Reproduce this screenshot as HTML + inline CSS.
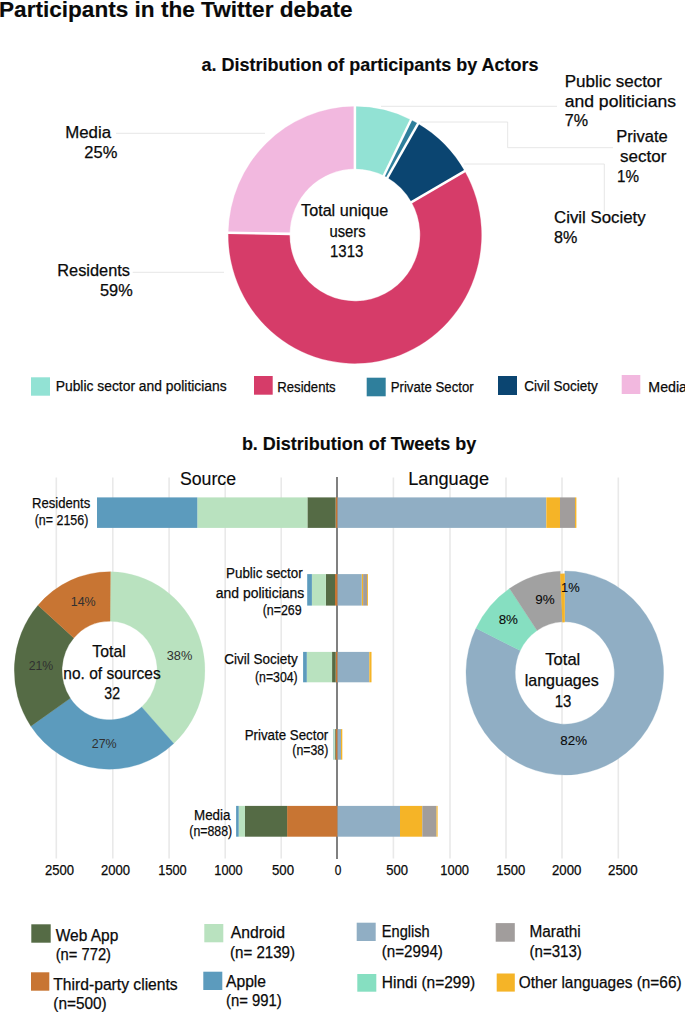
<!DOCTYPE html>
<html lang="en"><head><meta charset="utf-8"><title>Participants in the Twitter debate</title>
<style>
html,body{margin:0;padding:0;background:#fff;}
body{width:685px;height:1012px;overflow:hidden;}
svg{display:block;font-family:'Liberation Sans', Arial, sans-serif;}
</style></head><body>
<svg width="685" height="1012" viewBox="0 0 685 1012">
<text x="-1" y="17.3" font-size="21.8" font-weight="700" textLength="353.5" lengthAdjust="spacingAndGlyphs" fill="#0a0a0a" stroke="#0a0a0a" stroke-width="0.15">Participants in the Twitter debate</text>
<text x="201.5" y="71" font-size="17.9" font-weight="700" textLength="337.0" lengthAdjust="spacingAndGlyphs" fill="#0a0a0a" stroke="#0a0a0a" stroke-width="0.15">a. Distribution of participants by Actors</text>
<line x1="116" y1="133.3" x2="265" y2="133.3" stroke="#E0E0E0" stroke-width="0.8"/>
<line x1="132.7" y1="272.3" x2="224" y2="272.3" stroke="#E0E0E0" stroke-width="0.8"/>
<line x1="381" y1="106.3" x2="557" y2="106.3" stroke="#E0E0E0" stroke-width="0.8"/>
<polyline points="420.5,122 507.7,122 507.7,147.7 613,147.7" fill="none" stroke="#E0E0E0" stroke-width="0.8"/>
<polyline points="463.7,164 604.3,164 604.3,211.7" fill="none" stroke="#E0E0E0" stroke-width="0.8"/>
<g transform="translate(354.9 235) scale(1 1.015)">
<path d="M0.00 -126.50A126.5 126.5 0 0 1 56.05 -113.41L28.93 -58.54A65.3 65.3 0 0 0 0.00 -65.30Z" fill="#92E2D4" stroke="#92E2D4" stroke-width="0.3"/>
<path d="M56.05 -113.41A126.5 126.5 0 0 1 63.06 -109.66L32.55 -56.61A65.3 65.3 0 0 0 28.93 -58.54Z" fill="#2F7F9C" stroke="#2F7F9C" stroke-width="0.3"/>
<path d="M63.06 -109.66A126.5 126.5 0 0 1 109.77 -62.87L56.67 -32.45A65.3 65.3 0 0 0 32.55 -56.61Z" fill="#0B4571" stroke="#0B4571" stroke-width="0.3"/>
<path d="M109.77 -62.87A126.5 126.5 0 1 1 -126.48 -2.21L-65.29 -1.14A65.3 65.3 0 1 0 56.67 -32.45Z" fill="#D63C69" stroke="#D63C69" stroke-width="0.3"/>
<path d="M-126.48 -2.21A126.5 126.5 0 0 1 -0.00 -126.50L-0.00 -65.30A65.3 65.3 0 0 0 -65.29 -1.14Z" fill="#F2B8DF" stroke="#F2B8DF" stroke-width="0.3"/>
<line x1="0.00" y1="-64.30" x2="0.00" y2="-127.50" stroke="#fff" stroke-width="2.5"/>
<line x1="28.49" y1="-57.64" x2="56.49" y2="-114.30" stroke="#fff" stroke-width="2.5"/>
<line x1="32.05" y1="-55.74" x2="63.56" y2="-110.53" stroke="#fff" stroke-width="2.5"/>
<line x1="55.80" y1="-31.96" x2="110.64" y2="-63.36" stroke="#fff" stroke-width="2.5"/>
<line x1="-64.29" y1="-1.12" x2="-127.48" y2="-2.23" stroke="#fff" stroke-width="2.5"/>
</g>
<text x="301.1" y="215.7" font-size="16" textLength="87.1" lengthAdjust="spacingAndGlyphs" fill="#0a0a0a" stroke="#0a0a0a" stroke-width="0.25">Total unique</text>
<text x="329.5" y="236.5" font-size="16" textLength="36.1" lengthAdjust="spacingAndGlyphs" fill="#0a0a0a" stroke="#0a0a0a" stroke-width="0.25">users</text>
<text x="330" y="257.2" font-size="16" textLength="33.3" lengthAdjust="spacingAndGlyphs" fill="#0a0a0a" stroke="#0a0a0a" stroke-width="0.25">1313</text>
<text x="65.2" y="137.7" font-size="16" textLength="45.8" lengthAdjust="spacingAndGlyphs" fill="#0a0a0a" stroke="#0a0a0a" stroke-width="0.25">Media</text>
<text x="84.3" y="158" font-size="16" textLength="33.0" lengthAdjust="spacingAndGlyphs" fill="#0a0a0a" stroke="#0a0a0a" stroke-width="0.25">25%</text>
<text x="57.3" y="275.7" font-size="16" textLength="72.7" lengthAdjust="spacingAndGlyphs" fill="#0a0a0a" stroke="#0a0a0a" stroke-width="0.25">Residents</text>
<text x="100" y="296.3" font-size="16" textLength="32.7" lengthAdjust="spacingAndGlyphs" fill="#0a0a0a" stroke="#0a0a0a" stroke-width="0.25">59%</text>
<text x="564.7" y="86.7" font-size="16" textLength="97.3" lengthAdjust="spacingAndGlyphs" fill="#0a0a0a" stroke="#0a0a0a" stroke-width="0.25">Public sector</text>
<text x="564.7" y="106.7" font-size="16" textLength="111.3" lengthAdjust="spacingAndGlyphs" fill="#0a0a0a" stroke="#0a0a0a" stroke-width="0.25">and politicians</text>
<text x="564.7" y="126.3" font-size="16" textLength="23.3" lengthAdjust="spacingAndGlyphs" fill="#0a0a0a" stroke="#0a0a0a" stroke-width="0.25">7%</text>
<text x="616.3" y="142" font-size="16" textLength="51.4" lengthAdjust="spacingAndGlyphs" fill="#0a0a0a" stroke="#0a0a0a" stroke-width="0.25">Private</text>
<text x="620" y="161.7" font-size="16" textLength="46.3" lengthAdjust="spacingAndGlyphs" fill="#0a0a0a" stroke="#0a0a0a" stroke-width="0.25">sector</text>
<text x="617" y="181.7" font-size="16" textLength="22" lengthAdjust="spacingAndGlyphs" fill="#0a0a0a" stroke="#0a0a0a" stroke-width="0.25">1%</text>
<text x="554" y="223.3" font-size="16" textLength="91.7" lengthAdjust="spacingAndGlyphs" fill="#0a0a0a" stroke="#0a0a0a" stroke-width="0.25">Civil Society</text>
<text x="554" y="243.3" font-size="16" textLength="23.3" lengthAdjust="spacingAndGlyphs" fill="#0a0a0a" stroke="#0a0a0a" stroke-width="0.25">8%</text>
<rect x="31.0" y="377.3" width="19.0" height="18.4" fill="#92E2D4"/>
<text x="55.7" y="391" font-size="15.4" textLength="171.0" lengthAdjust="spacingAndGlyphs" fill="#0a0a0a" stroke="#0a0a0a" stroke-width="0.25">Public sector and politicians</text>
<rect x="254.0" y="376.0" width="18.7" height="18.7" fill="#D63C69"/>
<text x="277.3" y="391.7" font-size="15.4" textLength="58.4" lengthAdjust="spacingAndGlyphs" fill="#0a0a0a" stroke="#0a0a0a" stroke-width="0.25">Residents</text>
<rect x="366.7" y="377.7" width="19.0" height="18.6" fill="#2F7F9C"/>
<text x="390.7" y="391.7" font-size="15.4" textLength="83.0" lengthAdjust="spacingAndGlyphs" fill="#0a0a0a" stroke="#0a0a0a" stroke-width="0.25">Private Sector</text>
<rect x="498.0" y="376.0" width="19.0" height="19.0" fill="#0B4571"/>
<text x="524.3" y="391" font-size="15.4" textLength="73.4" lengthAdjust="spacingAndGlyphs" fill="#0a0a0a" stroke="#0a0a0a" stroke-width="0.25">Civil Society</text>
<rect x="621.7" y="375.0" width="18.6" height="19.0" fill="#F2B8DF"/>
<text x="648.3" y="392.3" font-size="15.4" textLength="38.7" lengthAdjust="spacingAndGlyphs" fill="#0a0a0a" stroke="#0a0a0a" stroke-width="0.25">Media</text>
<text x="241.9" y="449.5" font-size="17.9" font-weight="700" textLength="234.3" lengthAdjust="spacingAndGlyphs" fill="#0a0a0a" stroke="#0a0a0a" stroke-width="0.15">b. Distribution of Tweets by</text>
<line x1="56.3" y1="477.5" x2="56.3" y2="858.5" stroke="#E9E9E9" stroke-width="1.6"/>
<line x1="112.8" y1="477.5" x2="112.8" y2="858.5" stroke="#E9E9E9" stroke-width="1.6"/>
<line x1="169.1" y1="477.5" x2="169.1" y2="858.5" stroke="#E9E9E9" stroke-width="1.6"/>
<line x1="225.2" y1="477.5" x2="225.2" y2="858.5" stroke="#E9E9E9" stroke-width="1.6"/>
<line x1="281.2" y1="477.5" x2="281.2" y2="858.5" stroke="#E9E9E9" stroke-width="1.6"/>
<line x1="393.4" y1="477.5" x2="393.4" y2="858.5" stroke="#E9E9E9" stroke-width="1.6"/>
<line x1="450" y1="477.5" x2="450" y2="858.5" stroke="#E9E9E9" stroke-width="1.6"/>
<line x1="506" y1="477.5" x2="506" y2="858.5" stroke="#E9E9E9" stroke-width="1.6"/>
<line x1="562" y1="477.5" x2="562" y2="858.5" stroke="#E9E9E9" stroke-width="1.6"/>
<line x1="618.3" y1="477.5" x2="618.3" y2="858.5" stroke="#E9E9E9" stroke-width="1.6"/>
<text x="179.9" y="484.5" font-size="18.9" textLength="56.1" lengthAdjust="spacingAndGlyphs" fill="#0a0a0a" stroke="#0a0a0a" stroke-width="0.15">Source</text>
<text x="408.2" y="484.5" font-size="18.9" textLength="80.8" lengthAdjust="spacingAndGlyphs" fill="#0a0a0a" stroke="#0a0a0a" stroke-width="0.15">Language</text>
<line x1="337" y1="477" x2="337" y2="859" stroke="#808080" stroke-width="2"/>
<rect x="335.6" y="497.4" width="2.0" height="30.5" fill="#C87533"/>
<rect x="307.4" y="497.4" width="28.2" height="30.5" fill="#556B45"/>
<rect x="197.3" y="497.4" width="110.1" height="30.5" fill="#B9E2BF"/>
<rect x="97.0" y="497.4" width="100.3" height="30.5" fill="#5C9BBD"/>
<rect x="337.6" y="497.4" width="208.6" height="30.5" fill="#90AEC4"/>
<rect x="546.3" y="497.4" width="13.7" height="30.5" fill="#F5B427"/>
<rect x="560.0" y="497.4" width="15.0" height="30.5" fill="#A19D9C"/>
<rect x="575.0" y="497.4" width="1.4" height="30.5" fill="#F5B427"/>
<rect x="335.0" y="574.1" width="2.6" height="31.5" fill="#C87533"/>
<rect x="325.9" y="574.1" width="9.1" height="31.5" fill="#556B45"/>
<rect x="311.9" y="574.1" width="14.0" height="31.5" fill="#B9E2BF"/>
<rect x="307.2" y="574.1" width="4.7" height="31.5" fill="#5C9BBD"/>
<rect x="337.6" y="574.1" width="24.2" height="31.5" fill="#90AEC4"/>
<rect x="361.9" y="574.1" width="1.2" height="31.5" fill="#F5B427"/>
<rect x="363.1" y="574.1" width="4.0" height="31.5" fill="#A19D9C"/>
<rect x="367.1" y="574.1" width="0.9" height="31.5" fill="#F5B427"/>
<rect x="335.7" y="651.9" width="1.9" height="30.4" fill="#C87533"/>
<rect x="332.1" y="651.9" width="3.6" height="30.4" fill="#556B45"/>
<rect x="306.8" y="651.9" width="25.2" height="30.4" fill="#B9E2BF"/>
<rect x="303.1" y="651.9" width="3.7" height="30.4" fill="#5C9BBD"/>
<rect x="337.6" y="651.9" width="31.7" height="30.4" fill="#90AEC4"/>
<rect x="369.3" y="651.9" width="2.2" height="30.4" fill="#F5B427"/>
<rect x="335.7" y="729.1" width="1.9" height="30.6" fill="#C87533"/>
<rect x="334.8" y="729.1" width="0.9" height="30.6" fill="#556B45"/>
<rect x="333.4" y="729.1" width="1.4" height="30.6" fill="#B9E2BF"/>
<rect x="333.1" y="729.1" width="0.3" height="30.6" fill="#5C9BBD"/>
<rect x="337.6" y="729.1" width="3.4" height="30.6" fill="#90AEC4"/>
<rect x="341.0" y="729.1" width="1.3" height="30.6" fill="#F5B427"/>
<rect x="287.1" y="805.9" width="50.5" height="30.8" fill="#C87533"/>
<rect x="245.0" y="805.9" width="42.1" height="30.8" fill="#556B45"/>
<rect x="238.7" y="805.9" width="6.3" height="30.8" fill="#B9E2BF"/>
<rect x="236.1" y="805.9" width="2.6" height="30.8" fill="#5C9BBD"/>
<rect x="337.6" y="805.9" width="62.4" height="30.8" fill="#90AEC4"/>
<rect x="400.0" y="805.9" width="22.3" height="30.8" fill="#F5B427"/>
<rect x="422.3" y="805.9" width="14.2" height="30.8" fill="#A19D9C"/>
<rect x="436.5" y="805.9" width="1.1" height="30.8" fill="#F5B427"/>
<text x="32" y="508.3" font-size="15.4" textLength="58.3" lengthAdjust="spacingAndGlyphs" fill="#0a0a0a" stroke="#0a0a0a" stroke-width="0.25">Residents</text>
<text x="34.7" y="525" font-size="14.6" textLength="53.6" lengthAdjust="spacingAndGlyphs" fill="#0a0a0a" stroke="#0a0a0a" stroke-width="0.25">(n= 2156)</text>
<text x="226" y="577.7" font-size="15.4" textLength="76.7" lengthAdjust="spacingAndGlyphs" fill="#0a0a0a" stroke="#0a0a0a" stroke-width="0.25">Public sector</text>
<text x="215.7" y="597.7" font-size="15.4" textLength="88.6" lengthAdjust="spacingAndGlyphs" fill="#0a0a0a" stroke="#0a0a0a" stroke-width="0.25">and politicians</text>
<text x="262.7" y="615" font-size="14.6" textLength="39.0" lengthAdjust="spacingAndGlyphs" fill="#0a0a0a" stroke="#0a0a0a" stroke-width="0.25">(n=269</text>
<text x="224.3" y="664.3" font-size="15.4" textLength="73.4" lengthAdjust="spacingAndGlyphs" fill="#0a0a0a" stroke="#0a0a0a" stroke-width="0.25">Civil Society</text>
<text x="255" y="681.7" font-size="14.6" textLength="42.7" lengthAdjust="spacingAndGlyphs" fill="#0a0a0a" stroke="#0a0a0a" stroke-width="0.25">(n=304)</text>
<text x="244.7" y="740" font-size="15.4" textLength="83.6" lengthAdjust="spacingAndGlyphs" fill="#0a0a0a" stroke="#0a0a0a" stroke-width="0.25">Private Sector</text>
<text x="292.3" y="755" font-size="14.6" textLength="36.0" lengthAdjust="spacingAndGlyphs" fill="#0a0a0a" stroke="#0a0a0a" stroke-width="0.25">(n=38)</text>
<text x="194" y="820" font-size="15.4" textLength="36.4" lengthAdjust="spacingAndGlyphs" fill="#0a0a0a" stroke="#0a0a0a" stroke-width="0.25">Media</text>
<text x="189.3" y="835.5" font-size="14.6" textLength="42.9" lengthAdjust="spacingAndGlyphs" fill="#0a0a0a" stroke="#0a0a0a" stroke-width="0.25">(n=888)</text>
<text x="45" y="875" font-size="14.2" textLength="29" lengthAdjust="spacingAndGlyphs" fill="#0a0a0a" stroke="#0a0a0a" stroke-width="0.25">2500</text>
<text x="101" y="875" font-size="14.2" textLength="29" lengthAdjust="spacingAndGlyphs" fill="#0a0a0a" stroke="#0a0a0a" stroke-width="0.25">2000</text>
<text x="158.3" y="875" font-size="14.2" textLength="28.4" lengthAdjust="spacingAndGlyphs" fill="#0a0a0a" stroke="#0a0a0a" stroke-width="0.25">1500</text>
<text x="214.3" y="875" font-size="14.2" textLength="28.4" lengthAdjust="spacingAndGlyphs" fill="#0a0a0a" stroke="#0a0a0a" stroke-width="0.25">1000</text>
<text x="272" y="875" font-size="14.2" textLength="22" lengthAdjust="spacingAndGlyphs" fill="#0a0a0a" stroke="#0a0a0a" stroke-width="0.25">500</text>
<text x="334.7" y="875" font-size="14.2" textLength="6.6" lengthAdjust="spacingAndGlyphs" fill="#0a0a0a" stroke="#0a0a0a" stroke-width="0.25">0</text>
<text x="386.3" y="875" font-size="14.2" textLength="21.7" lengthAdjust="spacingAndGlyphs" fill="#0a0a0a" stroke="#0a0a0a" stroke-width="0.25">500</text>
<text x="440.3" y="875" font-size="14.2" textLength="28.7" lengthAdjust="spacingAndGlyphs" fill="#0a0a0a" stroke="#0a0a0a" stroke-width="0.25">1000</text>
<text x="496.3" y="875" font-size="14.2" textLength="29.0" lengthAdjust="spacingAndGlyphs" fill="#0a0a0a" stroke="#0a0a0a" stroke-width="0.25">1500</text>
<text x="552" y="875" font-size="14.2" textLength="29.3" lengthAdjust="spacingAndGlyphs" fill="#0a0a0a" stroke="#0a0a0a" stroke-width="0.25">2000</text>
<text x="608" y="875" font-size="14.2" textLength="29.7" lengthAdjust="spacingAndGlyphs" fill="#0a0a0a" stroke="#0a0a0a" stroke-width="0.25">2500</text>
<g transform="translate(109.6 670.5) scale(1 1.036)">
<path d="M0.83 -95.30A95.3 95.3 0 0 1 64.14 70.49L32.04 35.21A47.6 47.6 0 0 0 0.42 -47.60Z" fill="#B9E2BF" stroke="#B9E2BF" stroke-width="0.3"/>
<path d="M64.14 70.49A95.3 95.3 0 0 1 -78.73 53.70L-39.32 26.82A47.6 47.6 0 0 0 32.04 35.21Z" fill="#5C9BBD" stroke="#5C9BBD" stroke-width="0.3"/>
<path d="M-78.73 53.70A95.3 95.3 0 0 1 -71.60 -62.90L-35.76 -31.42A47.6 47.6 0 0 0 -39.32 26.82Z" fill="#556B45" stroke="#556B45" stroke-width="0.3"/>
<path d="M-71.60 -62.90A95.3 95.3 0 0 1 0.83 -95.30L0.42 -47.60A47.6 47.6 0 0 0 -35.76 -31.42Z" fill="#C87533" stroke="#C87533" stroke-width="0.3"/>
</g>
<text x="92.3" y="657.3" font-size="16.6" textLength="33.4" lengthAdjust="spacingAndGlyphs" fill="#0a0a0a" stroke="#0a0a0a" stroke-width="0.25">Total</text>
<text x="63.3" y="679" font-size="16.6" textLength="97.4" lengthAdjust="spacingAndGlyphs" fill="#0a0a0a" stroke="#0a0a0a" stroke-width="0.25">no. of sources</text>
<text x="104.3" y="699.3" font-size="16.6" textLength="15.7" lengthAdjust="spacingAndGlyphs" fill="#0a0a0a" stroke="#0a0a0a" stroke-width="0.25">32</text>
<text x="166.7" y="660" font-size="12.3" textLength="25.6" lengthAdjust="spacingAndGlyphs" fill="#303030">38%</text>
<text x="70.7" y="606.4" font-size="12.3" textLength="25.0" lengthAdjust="spacingAndGlyphs" fill="#303030">14%</text>
<text x="28.7" y="670.2" font-size="12.3" textLength="24.6" lengthAdjust="spacingAndGlyphs" fill="#303030">21%</text>
<text x="91.7" y="748.3" font-size="12.3" textLength="25.0" lengthAdjust="spacingAndGlyphs" fill="#303030">27%</text>
<g transform="translate(564.8 673) scale(1 1.032)">
<path d="M0.00 -98.80A98.8 98.8 0 1 1 -88.80 -43.31L-44.58 -21.74A49.6 49.6 0 1 0 0.00 -49.60Z" fill="#90AEC4" stroke="#90AEC4" stroke-width="0.3"/>
<path d="M-88.80 -43.31A98.8 98.8 0 0 1 -55.25 -81.91L-27.74 -41.12A49.6 49.6 0 0 0 -44.58 -21.74Z" fill="#86DFC1" stroke="#86DFC1" stroke-width="0.3"/>
<path d="M-55.25 -81.91A98.8 98.8 0 0 1 -4.48 -98.70L-2.25 -49.55A49.6 49.6 0 0 0 -27.74 -41.12Z" fill="#A1A1A1" stroke="#A1A1A1" stroke-width="0.3"/>
<path d="M-4.70 -96.19A96.3 96.3 0 0 1 -0.00 -96.30L-0.00 -49.10A49.1 49.1 0 0 0 -2.40 -49.04Z" fill="#F5B427"/>
</g>
<text x="545.3" y="665" font-size="16.6" textLength="35.0" lengthAdjust="spacingAndGlyphs" fill="#0a0a0a" stroke="#0a0a0a" stroke-width="0.25">Total</text>
<text x="524.7" y="686" font-size="16.6" textLength="74.0" lengthAdjust="spacingAndGlyphs" fill="#0a0a0a" stroke="#0a0a0a" stroke-width="0.25">languages</text>
<text x="554.7" y="706.7" font-size="16.6" textLength="16.6" lengthAdjust="spacingAndGlyphs" fill="#0a0a0a" stroke="#0a0a0a" stroke-width="0.25">13</text>
<text x="561" y="591.7" font-size="13.2" textLength="18.7" lengthAdjust="spacingAndGlyphs" fill="#0a0a0a" stroke="#0a0a0a" stroke-width="0.1">1%</text>
<text x="535.3" y="604.3" font-size="13.2" textLength="19.4" lengthAdjust="spacingAndGlyphs" fill="#0a0a0a" stroke="#0a0a0a" stroke-width="0.1">9%</text>
<text x="498.7" y="624" font-size="13.2" textLength="19.3" lengthAdjust="spacingAndGlyphs" fill="#0a0a0a" stroke="#0a0a0a" stroke-width="0.1">8%</text>
<text x="560.3" y="745" font-size="13.2" textLength="26.7" lengthAdjust="spacingAndGlyphs" fill="#0a0a0a" stroke="#0a0a0a" stroke-width="0.1">82%</text>
<rect x="31.3" y="924.3" width="19.4" height="18.4" fill="#556B45"/>
<text x="55.7" y="940.7" font-size="16" textLength="62.6" lengthAdjust="spacingAndGlyphs" fill="#0a0a0a" stroke="#0a0a0a" stroke-width="0.25">Web App</text>
<text x="55.7" y="960" font-size="16" textLength="55.3" lengthAdjust="spacingAndGlyphs" fill="#0a0a0a" stroke="#0a0a0a" stroke-width="0.25">(n= 772)</text>
<rect x="204.3" y="924.0" width="19.0" height="18.3" fill="#B9E2BF"/>
<text x="230.7" y="937.7" font-size="16" textLength="54.3" lengthAdjust="spacingAndGlyphs" fill="#0a0a0a" stroke="#0a0a0a" stroke-width="0.25">Android</text>
<text x="230" y="957.7" font-size="16" textLength="65" lengthAdjust="spacingAndGlyphs" fill="#0a0a0a" stroke="#0a0a0a" stroke-width="0.25">(n= 2139)</text>
<rect x="356.7" y="922.7" width="19.0" height="18.3" fill="#90AEC4"/>
<text x="381.8" y="937.3" font-size="16" textLength="47.9" lengthAdjust="spacingAndGlyphs" fill="#0a0a0a" stroke="#0a0a0a" stroke-width="0.25">English</text>
<text x="381.8" y="957" font-size="16" textLength="61.1" lengthAdjust="spacingAndGlyphs" fill="#0a0a0a" stroke="#0a0a0a" stroke-width="0.25">(n=2994)</text>
<rect x="495.7" y="923.1" width="19.1" height="18.6" fill="#A19D9C"/>
<text x="529.5" y="937" font-size="16" textLength="51.3" lengthAdjust="spacingAndGlyphs" fill="#0a0a0a" stroke="#0a0a0a" stroke-width="0.25">Marathi</text>
<text x="529.5" y="957" font-size="16" textLength="52.3" lengthAdjust="spacingAndGlyphs" fill="#0a0a0a" stroke="#0a0a0a" stroke-width="0.25">(n=313)</text>
<rect x="31.0" y="972.3" width="18.3" height="18.4" fill="#C87533"/>
<text x="53.3" y="990" font-size="16" textLength="124.4" lengthAdjust="spacingAndGlyphs" fill="#0a0a0a" stroke="#0a0a0a" stroke-width="0.25">Third-party clients</text>
<text x="53.3" y="1009.3" font-size="16" textLength="53.4" lengthAdjust="spacingAndGlyphs" fill="#0a0a0a" stroke="#0a0a0a" stroke-width="0.25">(n=500)</text>
<rect x="203.3" y="971.7" width="19.0" height="18.3" fill="#5C9BBD"/>
<text x="226" y="987.3" font-size="16" textLength="40" lengthAdjust="spacingAndGlyphs" fill="#0a0a0a" stroke="#0a0a0a" stroke-width="0.25">Apple</text>
<text x="226" y="1006.3" font-size="16" textLength="55.7" lengthAdjust="spacingAndGlyphs" fill="#0a0a0a" stroke="#0a0a0a" stroke-width="0.25">(n= 991)</text>
<rect x="357.3" y="974.0" width="19.0" height="17.7" fill="#86DFC1"/>
<text x="381.8" y="988.3" font-size="16" textLength="93.4" lengthAdjust="spacingAndGlyphs" fill="#0a0a0a" stroke="#0a0a0a" stroke-width="0.25">Hindi (n=299)</text>
<rect x="496.7" y="973.5" width="18.1" height="18.1" fill="#F5B427"/>
<text x="518.7" y="988.3" font-size="16" textLength="162.9" lengthAdjust="spacingAndGlyphs" fill="#0a0a0a" stroke="#0a0a0a" stroke-width="0.25">Other languages (n=66)</text>
</svg>
</body></html>
